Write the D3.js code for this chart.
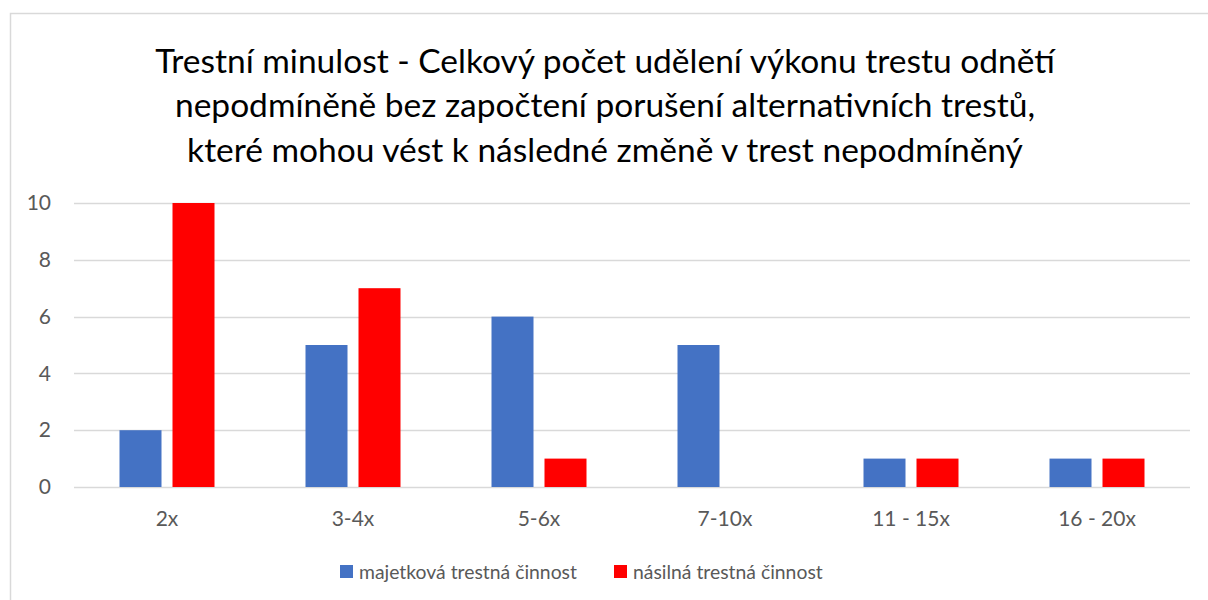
<!DOCTYPE html>
<html>
<head>
<meta charset="utf-8">
<script src="https://cdn.jsdelivr.net/npm/d3@7"></script>
<style>
  body { margin: 0; background: #fff; }
  svg { display: block; font-family: Lato, "Open Sans", sans-serif; }
</style>
</head>
<body>
<div id="chart"></div>
<script>
// data
const categories = ["2x", "3-4x", "5-6x", "7-10x", "11 - 15x", "16 - 20x"];
const majetkova = [2, 5, 6, 5, 1, 1];
const nasilna = [10, 7, 1, 0, 1, 1];
const seriesNames = ["majetková trestná činnost", "násilná trestná činnost"];
const seriesColors = ["#4472c4", "#ff0000"];
const yTicks = [0, 2, 4, 6, 8, 10];
const titleLines = [
  "Trestní minulost - Celkový počet udělení výkonu trestu odnětí",
  "nepodmíněně bez započtení porušení alternativních trestů,",
  "které mohou vést k následné změně v trest nepodmíněný"
];

const W = 1208, H = 600;
const margin = {left: 74, right: 18, top: 203, bottom: 113};

const svg = d3.select("#chart").append("svg")
  .attr("width", W).attr("height", H);

// chart border
svg.append("rect")
  .attr("x", 10.5).attr("y", 13.5)
  .attr("width", W).attr("height", H)
  .attr("fill", "none").attr("stroke", "#d9d9d9").attr("stroke-width", 1.5);

// title
const title = svg.append("g");
const titleY = [73, 117, 162];
titleLines.forEach((t, i) => {
  title.append("text")
    .attr("x", 605).attr("y", titleY[i])
    .attr("text-anchor", "middle")
    .attr("font-size", 30)
    .attr("fill", "#000")
    .text(t);
});
// fit first line to ~900px, same size for all
const w0 = title.select("text").node().getComputedTextLength();
const fs = 30 * 900 / w0;
title.selectAll("text").attr("font-size", fs);

const x0 = d3.scaleBand().domain(categories)
  .range([margin.left, W - margin.right]);
const y = d3.scaleLinear().domain([0, 10])
  .range([H - margin.bottom, margin.top]);

// gridlines
svg.append("g").selectAll("line").data(yTicks).join("line")
  .attr("x1", margin.left).attr("x2", W - margin.right)
  .attr("y1", d => Math.round(y(d)) + 0.5).attr("y2", d => Math.round(y(d)) + 0.5)
  .attr("stroke", "#d9d9d9").attr("stroke-width", 1.5);

// y axis
const yAxis = svg.append("g")
  .attr("transform", `translate(${margin.left - 23},0)`)
  .call(d3.axisLeft(y).tickValues(yTicks).tickSize(0).tickPadding(0));
yAxis.select(".domain").remove();
yAxis.selectAll("text").attr("font-size", 21).attr("fill", "#595959")
  .attr("font-family", "Lato");

// x axis
const xAxis = svg.append("g")
  .attr("transform", `translate(0,${H - margin.bottom})`)
  .call(d3.axisBottom(x0).tickSize(0).tickPadding(24));
xAxis.select(".domain").remove();
xAxis.selectAll("text").attr("font-size", 21).attr("fill", "#595959")
  .attr("font-family", "Lato");

// bars
const barW = 42, gap = 11;
const series = [majetkova, nasilna];
series.forEach((vals, s) => {
  svg.append("g").selectAll("rect").data(vals).join("rect")
    .attr("x", (d, i) => x0(categories[i]) + x0.bandwidth() / 2 + (s === 0 ? -gap / 2 - barW : gap / 2))
    .attr("y", d => y(d))
    .attr("width", barW)
    .attr("height", d => y(0) - y(d))
    .attr("fill", seriesColors[s]);
});

// legend
const legend = svg.append("g");
const legX = [340, 614];
seriesNames.forEach((n, i) => {
  legend.append("rect")
    .attr("x", legX[i]).attr("y", 565)
    .attr("width", 13).attr("height", 13)
    .attr("fill", seriesColors[i]);
  legend.append("text")
    .attr("x", legX[i] + 19).attr("y", 579)
    .attr("font-size", 21).attr("fill", "#595959")
    .text(n);
});
// fit legend text to the first label's width (~218px)
const lw = legend.select("text").node().getComputedTextLength();
legend.selectAll("text").attr("font-size", 21 * 218 / lw);
</script>
</body>
</html>
